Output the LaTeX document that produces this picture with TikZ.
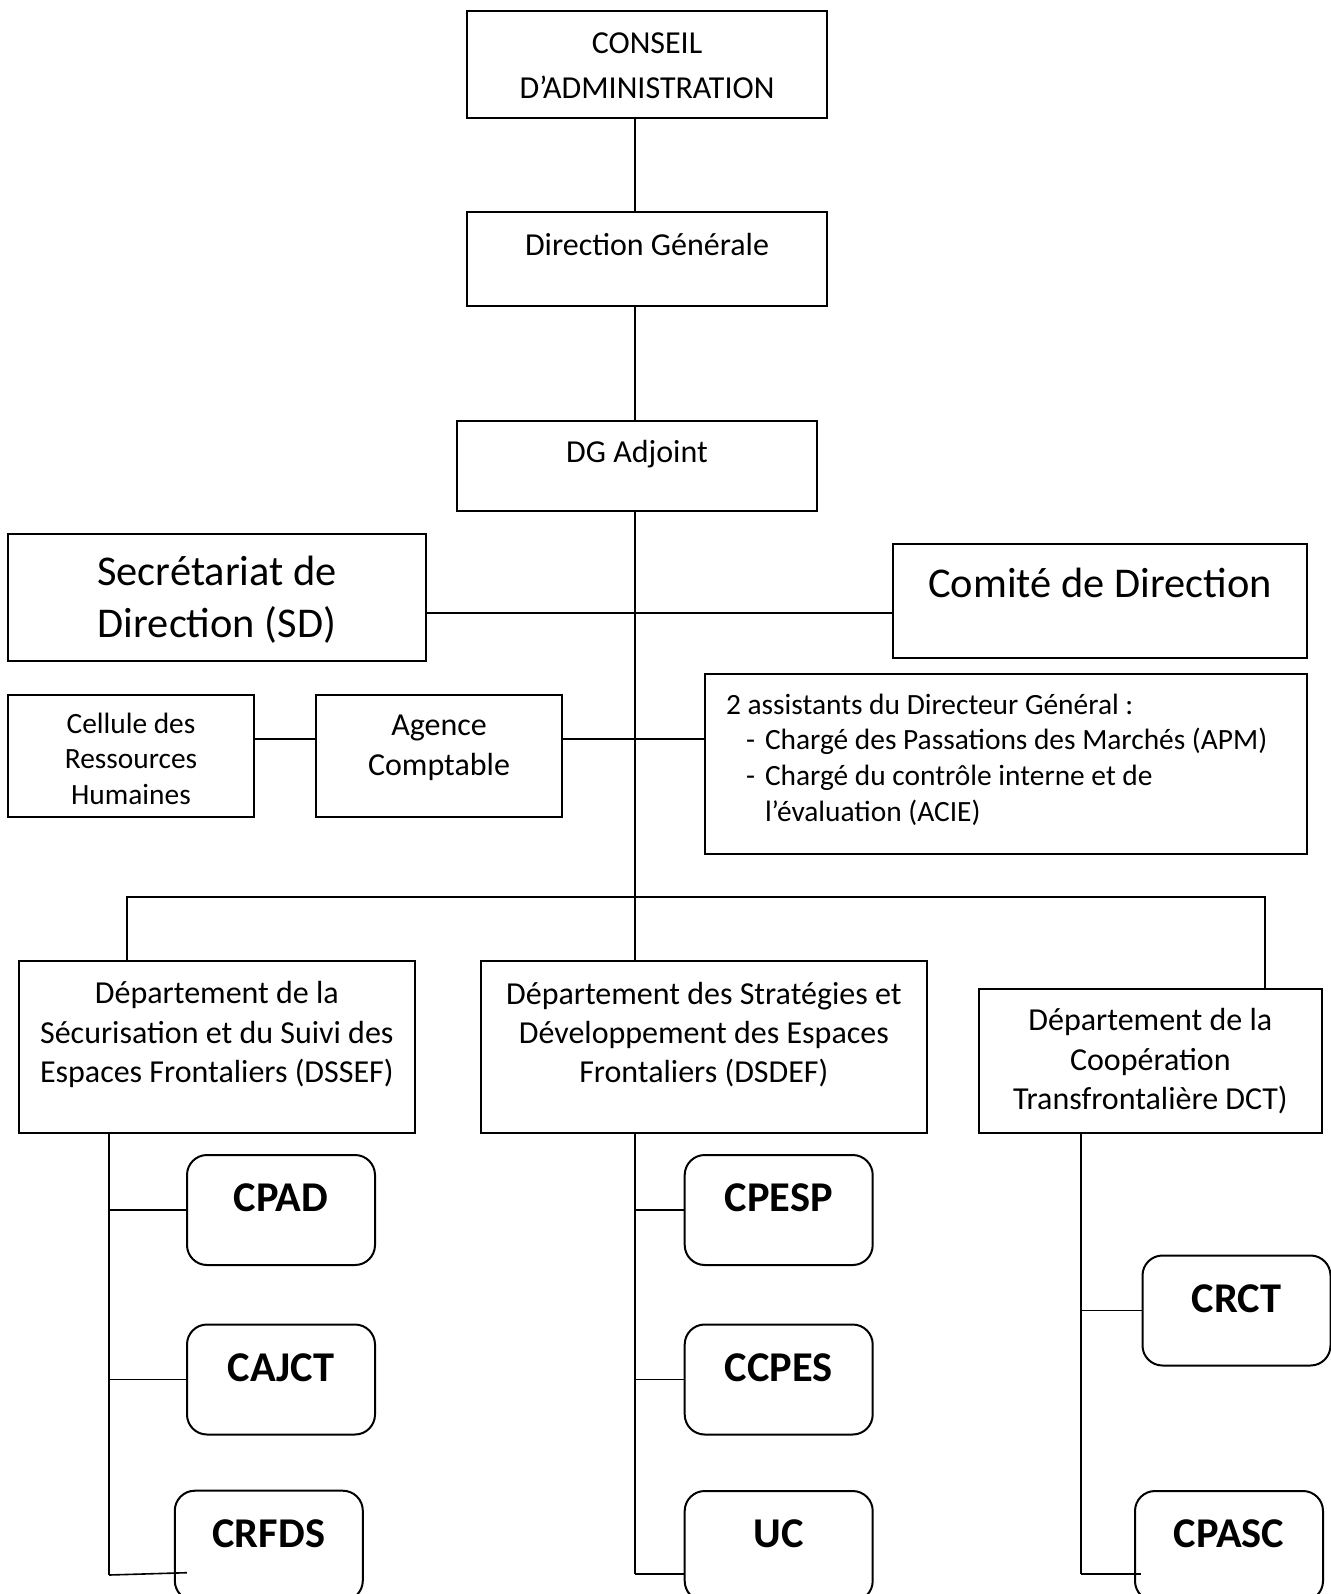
\documentclass[tikz,border=0pt]{standalone}
\usepackage{fontspec}
\setmainfont{Carlito}
\usetikzlibrary{calc,positioning}

\newcommand{\fconseil}{\fontsize{16}{22.3}\selectfont}
\newcommand{\fnormal}{\fontsize{16}{19.6}\selectfont}
\newcommand{\fbig}{\fontsize{21.2}{25.8}\selectfont}
\newcommand{\fsmall}{\fontsize{14.7}{17.8}\selectfont}
\newcommand{\funit}{\bfseries\fontsize{21.2}{25.4}\selectfont}

\begin{document}
\begin{tikzpicture}[x=0.5pt, y=-0.5pt, line width=1pt,
orgbox/.style={draw, rectangle, inner sep=0pt, outer sep=0pt},
unitbox/.style={orgbox, rounded corners=10pt, minimum width=94pt, minimum height=55pt},
toptext/.style={anchor=north, align=center, inner sep=0pt, yshift=#1},
unittext/.style={toptext=-10.2pt, font=\funit},
link/.style={line width=1pt},
sublink/.style={line width=0.8pt}]

\path[fill=white] (0,0) rectangle (1330,1594);
\useasboundingbox (0,0) rectangle (1330,1594);

%top of the chart
\node[orgbox, minimum width=180pt, minimum height=53.5pt,
  label={[toptext=-5.4pt, font=\fconseil]north:{\strut CONSEIL\\D’ADMINISTRATION}}] (ca) at (647,64.3) {};
\node[orgbox, minimum width=180pt, minimum height=47pt,
  label={[toptext=-7.3pt, font=\fnormal]north:{\strut Direction Générale}}] (dg) at (647,259) {};
\node[orgbox, minimum width=180pt, minimum height=44.85pt,
  label={[toptext=-6.6pt, font=\fnormal]north:{\strut DG Adjoint}}] (dga) at (637,465.8) {};

%staff boxes
\node[orgbox, minimum width=209pt, minimum height=63.5pt,
  label={[toptext=-7.4pt, font=\fbig]north:{\strut Secrétariat de\\Direction (SD)}}] (sd) at (217,597.5) {};
\node[orgbox, minimum width=207pt, minimum height=57pt,
  label={[toptext=-7.8pt, font=\fbig]north:{\strut Comité de Direction}}] (cd) at (1100,601.3) {};
\node[orgbox, minimum width=123pt, minimum height=61pt,
  label={[toptext=-6.3pt, font=\fsmall]north:{\strut Cellule des\\Ressources\\Humaines}}] (crh) at (131,755.7) {};
\node[orgbox, minimum width=123pt, minimum height=61pt,
  label={[toptext=-6.4pt, font=\fnormal]north:{\strut Agence\\Comptable}}] (ac) at (439,755.7) {};
\node[orgbox, minimum width=301pt, minimum height=90pt,
  label={[toptext=-7pt, font=\fsmall, align=left, anchor=north west, xshift=10pt]north west:{%
    \strut 2 assistants du Directeur Général :\\
    \hspace*{10pt}\makebox[9.5pt][l]{-}Chargé des Passations des Marchés (APM)\\
    \hspace*{10pt}\makebox[9.5pt][l]{-}Chargé du contrôle interne et de\\
    \hspace*{19.5pt}l’évaluation (ACIE)}}] (ast) at (1006,764.3) {};

%departments
\node[orgbox, minimum width=198.15pt, minimum height=86.15pt,
  label={[toptext=-7.4pt, font=\fnormal]north:{\strut Département de la\\Sécurisation et du Suivi des\\Espaces Frontaliers (DSSEF)}}] (dssef) at (216.85,1046.85) {};
\node[orgbox, minimum width=222.85pt, minimum height=85.85pt,
  label={[toptext=-7.4pt, font=\fnormal]north:{\strut Département des Stratégies et\\Développement des Espaces\\Frontaliers (DSDEF)}}] (dsdef) at (703.85,1046.85) {};
\node[orgbox, minimum width=171.35pt, minimum height=71.7pt,
  label={[toptext=-6.6pt, font=\fnormal]north:{\strut Département de la\\Coopération\\Transfrontalière DCT)}}] (dct) at (1150.35,1061) {};

%units
\node[unitbox, label={[unittext]north:{\strut CPAD}}] (cpad) at (281,1210) {};
\node[unitbox, label={[unittext]north:{\strut CAJCT}}] (cajct) at (281,1379.5) {};
\node[unitbox, label={[unittext]north:{\strut CRFDS}}] (crfds) at (268.8,1545.7) {};
\node[unitbox, label={[unittext]north:{\strut CPESP}}] (cpesp) at (778.7,1210) {};
\node[unitbox, label={[unittext]north:{\strut CCPES}}] (ccpes) at (778.7,1379.5) {};
\node[unitbox, label={[unittext]north:{\strut UC}}] (uc) at (778.7,1546) {};
\node[unitbox, label={[unittext]north:{\strut CRCT}}] (crct) at (1236.5,1310.5) {};
\node[unitbox, label={[unittext]north:{\strut CPASC}}] (cpasc) at (1229,1546) {};

%main spine
\coordinate (sp) at (635,0);
\draw[link] (ca.south -| sp) -- (dg.north -| sp);
\draw[link] (dg.south -| sp) -- (dga.north -| sp);
\draw[link] (dga.south -| sp) -- (dsdef.north -| sp);

%side links
\coordinate (j1) at (635,613);
\draw[link] (sd.east |- j1) -- (cd.west |- j1);
\coordinate (j2) at (635,739);
\draw[link] (crh.east |- j2) -- (ac.west |- j2);
\draw[link] (ac.east |- j2) -- (ast.west |- j2);

%bus to departments
\coordinate (bl) at (127,897);
\coordinate (br) at (1265,897);
\draw[link] (dssef.north -| bl) |- (br) -- (dct.north -| br);

%left column
\coordinate (lc) at (109,1575);
\coordinate (crfdsin) at ($(crfds.west)+(12,27)$);
\draw[link] (dssef.south -| lc) -- (lc);
\draw[sublink] (lc |- cpad.west) -- (cpad.west);
\draw[sublink] (lc |- cajct.west) -- (cajct.west);
\draw[sublink] (lc) -- (crfdsin);

%middle column
\coordinate (mc) at (635,1574);
\draw[link] (dsdef.south -| mc) -- (mc);
\draw[sublink] (mc |- cpesp.west) -- (cpesp.west);
\draw[sublink] (mc |- ccpes.west) -- (ccpes.west);
\draw[sublink] (mc) -- (uc.west |- mc);

%right column
\coordinate (rc) at (1081,1574);
\coordinate (cpascin) at ($(cpasc.west)+(6,28)$);
\draw[link] (dct.south -| rc) -- (rc);
\draw[sublink] (rc |- crct.west) -- (crct.west);
\draw[sublink] (rc) -- (cpascin);

\end{tikzpicture}
\end{document}
